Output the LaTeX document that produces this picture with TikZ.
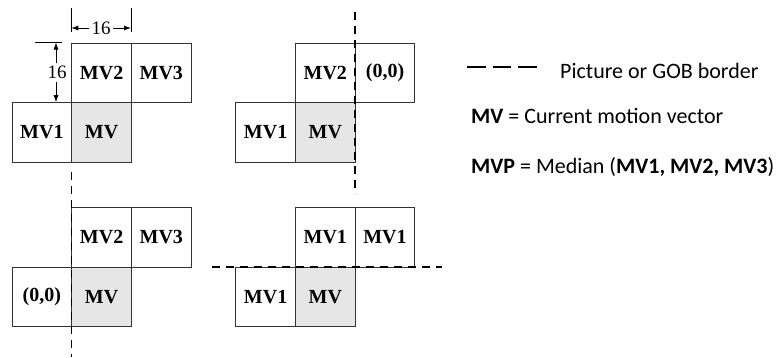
\documentclass[tikz,border=0pt]{standalone}
\usepackage{fontspec}
\setmainfont{Liberation Serif}
\newfontfamily\legendfont{Carlito}
\usetikzlibrary{arrows.meta}
\definecolor{cellgray}{HTML}{E6E6E6}
\definecolor{edge}{HTML}{333333}
\tikzset{
  cell/.style={draw=edge, line width=0.9pt, minimum width=59.7pt, minimum height=59.7pt,
    inner sep=0pt, anchor=north west, font=\fontsize{20}{22}\selectfont\bfseries},
  cur/.style={cell, fill=cellgray},
  border/.style={line width=1.6pt, dash pattern=on 8pt off 6pt},
  legborder/.style={line width=2.2pt, dash pattern=on 18.5pt off 7pt},
  dimline/.style={line width=0.7pt},
  dimarrow/.style={line width=0.8pt, -{Latex[length=7pt,width=5pt]}},
  dimtext/.style={font=\fontsize{19}{21}\selectfont, inner sep=2.5pt},
  legend/.style={anchor=base west, inner sep=0pt, font=\legendfont\fontsize{22}{24}\selectfont}
}
\begin{document}
\begin{tikzpicture}[x=1pt, y=-1pt]
\useasboundingbox (0,0) rectangle (781,357);

% ---- upper left: all neighbours available ----
\node[cell] (a2) at (71.3,42.5) {MV2};
\node[cell] (a3) at (131,42.5) {MV3};
\node[cell] (a1) at (11.6,102.2) {MV1};
\node[cur]  (a0) at (71.3,102.2) {MV};

% width dimension
\coordinate (wl1) at (71.3,8);  \coordinate (wl2) at (71.3,32);
\coordinate (wr1) at (131,8);   \coordinate (wr2) at (131,32);
\draw[dimline] (wl1) -- (wl2);
\draw[dimline] (wr1) -- (wr2);
\node[dimtext] (wtext) at (101,28) {16};
\coordinate (wla) at (71.3,28);
\coordinate (wra) at (131,28);
\draw[dimarrow] (wtext.west) -- (wla);
\draw[dimarrow] (wtext.east) -- (wra);

% height dimension
\coordinate (ht1) at (35,42.5); \coordinate (ht2) at (62,42.5);
\draw[dimline] (ht1) -- (ht2);
\node[dimtext] (htext) at (57,72.5) {16};
\coordinate (hta) at (56,42.5);
\coordinate (hba) at (56,102.2);
\draw[dimarrow] (htext.north -| hta) -- (hta);
\draw[dimarrow] (htext.south -| hba) -- (hba);

% ---- upper right: right border ----
\node[cell] (b2) at (295,42.5) {MV2};
\node[cell] (b3) at (354.7,42.5) {(0,0)};
\node[cell] (b1) at (235.3,102.2) {MV1};
\node[cur]  (b0) at (295,102.2) {MV};
\coordinate (bt) at (354.7,12);
\coordinate (bb) at (354.7,194);
\draw[border] (bt) -- (bb);

% ---- lower left: left border ----
\node[cell] (c2) at (71.3,207) {MV2};
\node[cell] (c3) at (131,207) {MV3};
\node[cell] (c1) at (11.6,266.7) {(0,0)};
\node[cur]  (c0) at (71.3,266.7) {MV};
\coordinate (ct) at (71.3,172);
\coordinate (cb) at (71.3,357);
\draw[border] (ct) -- (cb);

% ---- lower right: top border ----
\node[cell] (d2) at (295,207) {MV1};
\node[cell] (d3) at (354.7,207) {MV1};
\node[cell] (d1) at (235.3,266.7) {MV1};
\node[cur]  (d0) at (295,266.7) {MV};
\coordinate (dl) at (212,266.7);
\coordinate (dr) at (442,266.7);
\draw[border] (dl) -- (dr);

% ---- legend ----
\coordinate (lg1) at (467,67);
\coordinate (lg2) at (537,67);
\draw[legborder] (lg1) -- (lg2);
\node[legend] (l1) at (560,78) {Picture or GOB border};
\node[legend] (l2) at (471,123.5) {\textbf{MV} = Current motion vector};
\node[legend] (l3) at (471,173.5) {\textbf{MVP} = Median (\textbf{MV1, MV2, MV3})};
\end{tikzpicture}
\end{document}
